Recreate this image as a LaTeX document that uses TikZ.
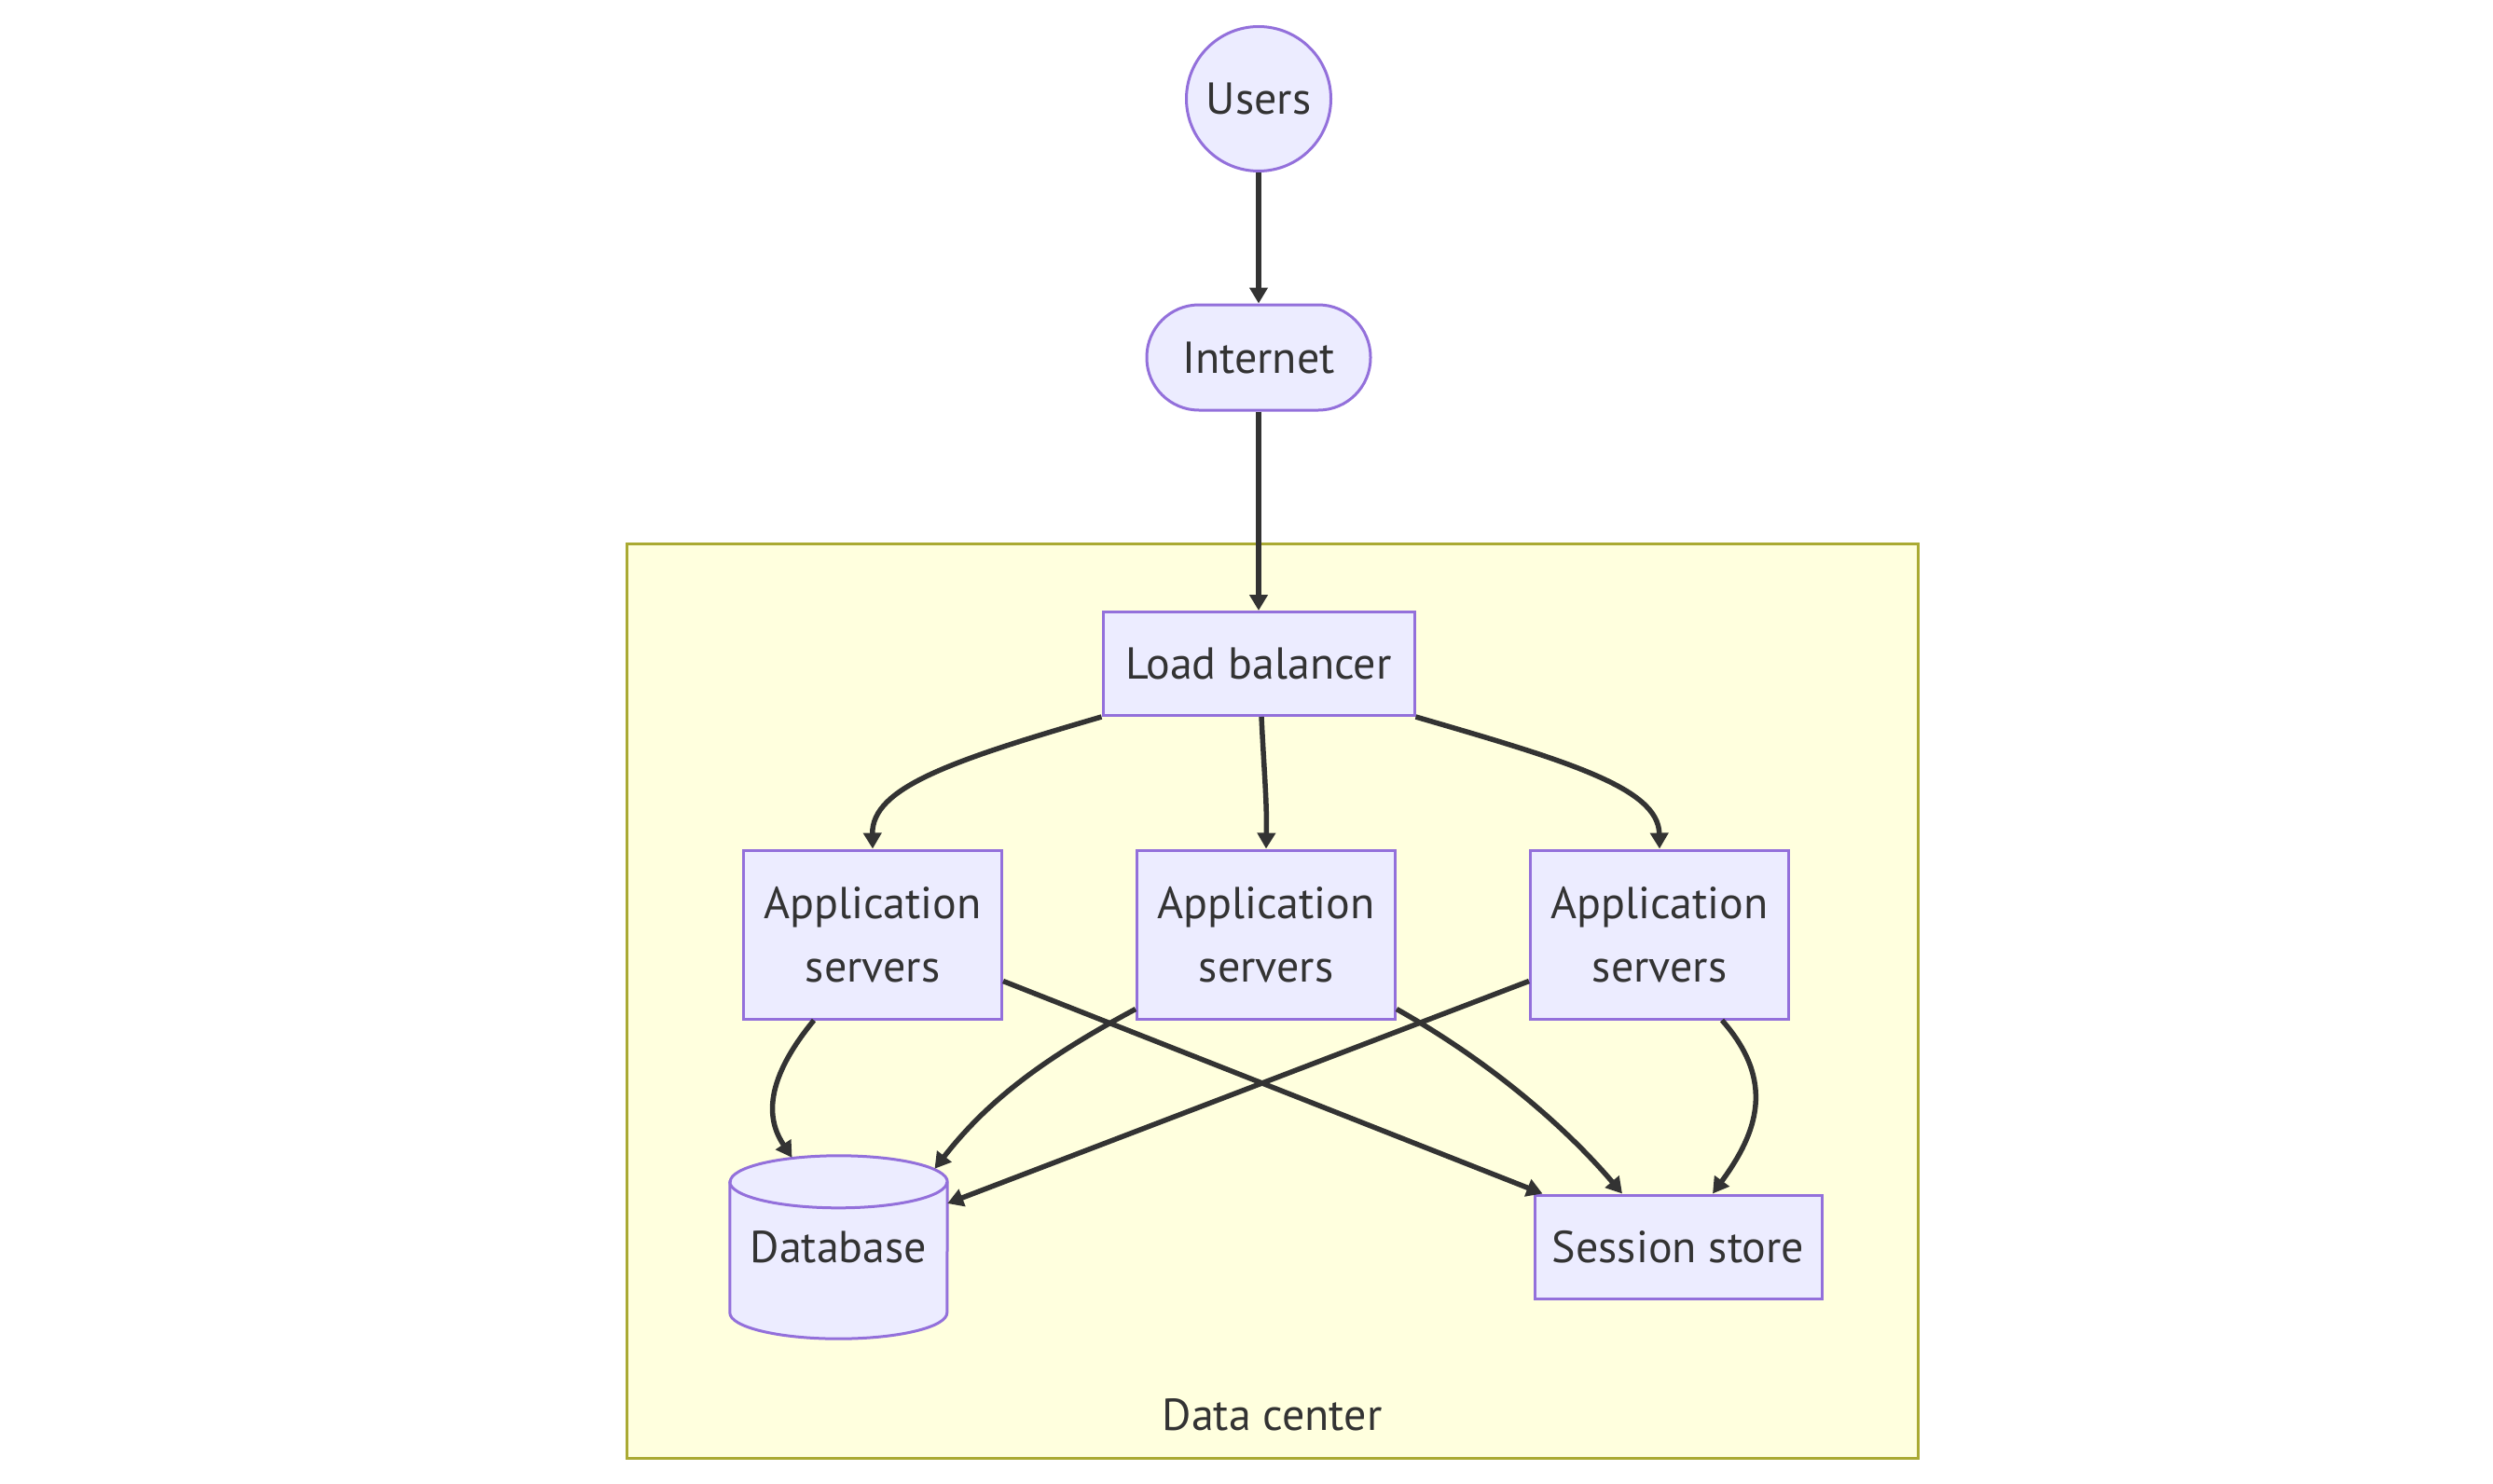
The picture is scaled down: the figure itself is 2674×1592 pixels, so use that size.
\documentclass[tikz,border=0pt]{standalone}
\usepackage{fontspec}
\setmainfont{PT Sans}
\usetikzlibrary{arrows.meta}
\definecolor{nodefill}{HTML}{ECECFF}
\definecolor{nodeline}{HTML}{9370DB}
\definecolor{clusterfill}{HTML}{FFFFDE}
\definecolor{clusterline}{HTML}{AAAA33}
\definecolor{ink}{HTML}{333333}
\tikzset{
  lbl/.style={font=\fontsize{48}{68}\selectfont, text=ink, align=center, inner sep=0pt},
  box/.style={lbl, draw=nodeline, fill=nodefill, line width=3pt},
  conn/.style={draw=ink, line width=5.5pt, -{Triangle[length=17pt,width=19pt]}},
}
\begin{document}
\begin{tikzpicture}[x=1pt,y=-1pt]
\useasboundingbox[fill=white] (0,0) rectangle (2674,1592);
% cluster
\draw[draw=clusterline, fill=clusterfill, line width=3pt] (672,583) rectangle (2057,1564);
\node[lbl] (dclabel) at (1364.5,1518) {Data center};
% nodes
\node[box, circle, minimum size=155pt] (users) at (1350,106) {Users};
\node[box, rounded corners=56pt, minimum width=240pt, minimum height=113pt] (inet) at (1350,383.5) {Internet};
\node[box, minimum width=334pt, minimum height=111pt] (lb) at (1350,712) {Load balancer};
\node[box, minimum width=277pt, minimum height=181pt] (app1) at (936,1002.5) {Application\\servers};
\node[box, minimum width=277pt, minimum height=181pt] (app2) at (1358,1002.5) {Application\\servers};
\node[box, minimum width=277pt, minimum height=181pt] (app3) at (1780,1002.5) {Application\\servers};
\node[box, minimum width=308pt, minimum height=111pt] (sess) at (1800,1337.5) {Session store};
% database cylinder
\node[lbl, minimum width=233pt, minimum height=196pt] (db) at (899.5,1338) {};
\draw[draw=nodeline, fill=nodefill, line width=3pt]
  ([yshift=-28pt]db.north west) -- ([yshift=28pt]db.south west)
  arc[start angle=180, end angle=360, x radius=116.5pt, y radius=28pt]
  -- ([yshift=-28pt]db.north east)
  arc[start angle=0, end angle=180, x radius=116.5pt, y radius=28pt] -- cycle;
\draw[draw=nodeline, line width=3pt]
  ([yshift=-28pt]db.north west)
  arc[start angle=180, end angle=360, x radius=116.5pt, y radius=28pt];
\node[lbl] at (db.center) {Database};
% connectors
\draw[conn] (users.south) -- (inet.north);
\draw[conn] (inet.south) -- (lb.north);
\draw[conn] (lb.south west) .. controls (1020,816) and (935,845) .. (app1.north);
\draw[conn] ([xshift=3pt]lb.south) .. controls (1356,830) and (1359,860) .. (app2.north);
\draw[conn] (lb.south east) .. controls (1680,816) and (1779,845) .. (app3.north);
\draw[conn] ([xshift=-63pt]app1.south) .. controls (815,1165) and (825,1205) .. ([xshift=-50pt,yshift=-2pt]db.north);
\draw[conn] ([yshift=-50pt]app1.east) -- ([xshift=10pt]sess.north west);
\draw[conn] ([yshift=12pt]app2.south west) .. controls (1120,1135) and (1060,1180) .. ([xshift=103pt,yshift=-14pt]db.north);
\draw[conn] ([yshift=12pt]app2.south east) .. controls (1600,1140) and (1680,1210) .. ([xshift=-60pt]sess.north);
\draw[conn] ([yshift=-50pt]app3.west) -- ([yshift=47pt]db.east);
\draw[conn] ([xshift=67pt]app3.south) .. controls (1905,1160) and (1885,1215) .. ([xshift=37pt]sess.north);
\end{tikzpicture}
\end{document}
